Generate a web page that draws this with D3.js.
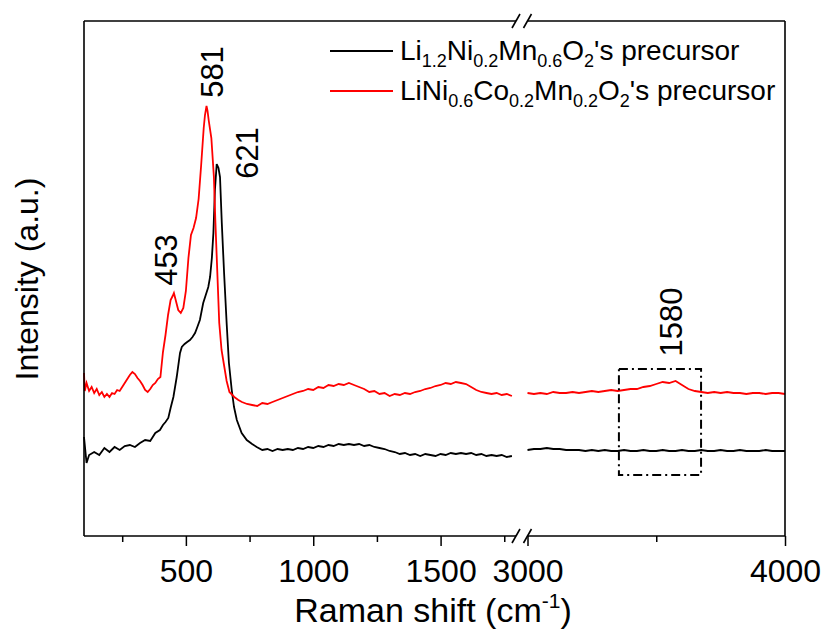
<!DOCTYPE html>
<html>
<head>
<meta charset="utf-8">
<script src="https://cdn.jsdelivr.net/npm/d3@7"></script>
<style>
  body { margin: 0; background: #fff; }
  text { font-family: "Liberation Sans", Arial, sans-serif; fill: #000; }
</style>
</head>
<body>
<svg id="chart" width="828" height="629"></svg>
<script>
// Raman spectra, [shift (cm-1), intensity (a.u.)]
// low-wavenumber segment (100-1800) and high segment (3000-4000)
var blackLow = [
  [100,1160],[110,900],[120,980],[140,1010],[160,980],[180,1050],[200,1010],[220,1060],
  [240,1030],[260,1070],[280,1080],[300,1060],[320,1100],[340,1130],[360,1120],[380,1200],
  [398,1230],[410,1280],[420,1310],[431,1350],[440,1450],[451,1560],[464,1760],[477,2000],
  [484,2060],[495,2090],[505,2110],[516,2130],[526,2160],[536,2200],[545,2260],[555,2330],
  [568,2500],[578,2580],[588,2660],[595,2760],[602,2950],[608,3200],[614,3630],[621,3890],
  [628,3850],[634,3760],[641,3300],[650,2800],[660,2300],[669,1900],[680,1630],[689,1460],
  [700,1330],[719,1200],[739,1130],[760,1090],[778,1060],[800,1030],[820,1040],[840,1020],
  [860,1040],[880,1030],[900,1040],[920,1030],[940,1050],[960,1040],[980,1060],[1000,1050],
  [1020,1070],[1040,1060],[1060,1080],[1080,1070],[1100,1090],[1120,1080],[1140,1090],
  [1160,1080],[1180,1090],[1200,1070],[1220,1080],[1240,1060],[1260,1050],[1280,1040],
  [1300,1020],[1320,1010],[1340,990],[1360,1000],[1380,980],[1400,990],[1420,970],
  [1440,990],[1460,980],[1480,970],[1500,990],[1520,980],[1540,1000],[1560,990],[1580,1000],
  [1600,990],[1620,1000],[1640,980],[1660,990],[1680,970],[1700,980],[1720,970],[1740,980],
  [1760,960],[1780,970]
];
var redLow = [
  [100,1800],[103,1620],[110,1700],[120,1620],[130,1660],[140,1600],[150,1640],[160,1580],
  [170,1610],[180,1560],[190,1590],[200,1560],[210,1600],[220,1590],[230,1630],[240,1620],
  [250,1660],[260,1700],[270,1740],[280,1780],[290,1810],[300,1790],[310,1750],[320,1720],
  [330,1680],[340,1630],[350,1610],[360,1640],[370,1680],[380,1700],[390,1740],[400,1760],
  [410,2010],[420,2180],[430,2380],[440,2530],[448,2570],[453,2600],[460,2530],[470,2430],
  [480,2400],[490,2450],[500,2620],[510,2950],[520,3180],[530,3250],[540,3350],[550,3540],
  [560,3880],[570,4250],[575,4380],[581,4470],[585,4420],[590,4320],[600,4150],[610,3760],
  [616,3300],[622,2900],[631,2300],[640,2030],[651,1860],[660,1720],[671,1610],[690,1560],
  [706,1530],[720,1510],[740,1490],[760,1480],[780,1470],[800,1500],[820,1490],[840,1510],
  [860,1530],[880,1550],[900,1570],[920,1590],[940,1610],[960,1620],[980,1640],[1000,1630],
  [1020,1660],[1040,1650],[1060,1680],[1080,1670],[1100,1690],[1120,1680],[1140,1700],
  [1160,1680],[1180,1660],[1200,1640],[1220,1610],[1240,1620],[1260,1590],[1280,1600],
  [1300,1570],[1320,1590],[1340,1580],[1360,1600],[1380,1590],[1400,1610],[1420,1620],
  [1440,1640],[1460,1650],[1480,1670],[1500,1680],[1520,1700],[1540,1690],[1560,1710],
  [1580,1700],[1600,1690],[1620,1660],[1640,1630],[1660,1610],[1680,1600],[1700,1590],
  [1720,1600],[1740,1580],[1760,1590],[1780,1570]
];
var blackHigh = [
  [3000,1030],[3025,1040],[3050,1040],[3075,1050],[3100,1040],[3125,1040],[3150,1030],
  [3175,1030],[3200,1030],[3225,1020],[3250,1030],[3275,1020],[3300,1030],[3325,1020],
  [3350,1020],[3375,1030],[3400,1020],[3425,1020],[3450,1030],[3475,1020],[3500,1020],
  [3525,1030],[3550,1020],[3575,1020],[3600,1030],[3625,1020],[3650,1020],[3675,1030],
  [3700,1020],[3725,1020],[3750,1030],[3775,1020],[3800,1020],[3825,1030],[3850,1020],
  [3875,1020],[3900,1020],[3925,1030],[3950,1020],[3975,1020],[4000,1020]
];
var redHigh = [
  [3000,1600],[3025,1590],[3050,1600],[3075,1590],[3100,1610],[3125,1600],[3150,1600],
  [3175,1610],[3200,1600],[3225,1610],[3250,1620],[3275,1610],[3300,1620],[3325,1630],
  [3350,1620],[3375,1630],[3400,1640],[3425,1640],[3450,1660],[3475,1670],[3500,1690],
  [3525,1710],[3550,1700],[3575,1720],[3600,1680],[3625,1640],[3650,1620],[3675,1610],
  [3700,1600],[3725,1610],[3750,1600],[3775,1610],[3800,1600],[3825,1600],[3850,1590],
  [3875,1600],[3900,1600],[3925,1590],[3950,1600],[3975,1600],[4000,1590]
];

var lowMajor = [500, 1000, 1500], lowMinor = [250, 750, 1250, 1750];
var highMajor = [3000, 4000], highMinor = [3500];

// peak labels: text, shift, intensity of the peak
var peakText = ['453', '581', '621', '1580'];
var peakShift = [453, 581, 621, 3600];
var peakLevel = [2600, 4470, 3890, 1720];

// region marked by the dash-dot box
var boxShift = [3355, 3674], boxLevel = [780, 1840];

var legendNames = [
  [['Li',0],['1.2',1],['Ni',0],['0.2',1],['Mn',0],['0.6',1],['O',0],['2',1],["'s precursor",0]],
  [['LiNi',0],['0.6',1],['Co',0],['0.2',1],['Mn',0],['0.2',1],['O',0],['2',1],["'s precursor",0]]
];
var colors = ['#000000', '#ff0000'];

var svg = d3.select('#chart');
var plotL = 84, plotR = 785, plotT = 21, plotB = 536;
var gapL = 516, gapR = 527.5;

var xLo = d3.scaleLinear().domain([100, 1800]).range([plotL, 517]);
var xHi = d3.scaleLinear().domain([3000, 4000]).range([gapR, plotR]);
var y = d3.scaleLinear().domain([170, 5320]).range([plotB, plotT]);

function xOf(v) { return v < 2500 ? xLo(v) : xHi(v); }

var lineLo = d3.line().x(function (d) { return xLo(d[0]); }).y(function (d) { return y(d[1]); });
var lineHi = d3.line().x(function (d) { return xHi(d[0]); }).y(function (d) { return y(d[1]); });

// spectra
[[blackLow, blackHigh], [redLow, redHigh]].forEach(function (s, i) {
  svg.append('path').attr('d', lineLo(s[0]))
    .attr('fill', 'none').attr('stroke', colors[i]).attr('stroke-width', 1.8);
  svg.append('path').attr('d', lineHi(s[1]))
    .attr('fill', 'none').attr('stroke', colors[i]).attr('stroke-width', 1.8);
});

// frame with axis break
var frame = svg.append('g').attr('stroke', '#000').attr('stroke-width', 1.6);
frame.append('line').attr('x1', plotL).attr('x2', plotL).attr('y1', plotT).attr('y2', plotB);
frame.append('line').attr('x1', plotR).attr('x2', plotR).attr('y1', plotT).attr('y2', plotB);
[plotT, plotB].forEach(function (yy) {
  frame.append('line').attr('x1', plotL).attr('x2', gapL).attr('y1', yy).attr('y2', yy);
  frame.append('line').attr('x1', gapR).attr('x2', plotR).attr('y1', yy).attr('y2', yy);
  [gapL, gapR].forEach(function (xx) {
    frame.append('line').attr('x1', xx - 4).attr('y1', yy + 7).attr('x2', xx + 4).attr('y2', yy - 7);
  });
});

// x axes
function addAxis(scale, major, minor) {
  var g = svg.append('g').attr('transform', 'translate(0,' + plotB + ')');
  g.call(d3.axisBottom(scale).tickValues(major).tickSize(10).tickPadding(13).tickFormat(d3.format('d')));
  g.append('g').call(d3.axisBottom(scale).tickValues(minor).tickSize(6).tickFormat(''));
  g.selectAll('.domain').remove();
  g.selectAll('line').attr('stroke-width', 1.5);
  g.selectAll('text').style('font-size', '32px').attr('font-family', null);
}
addAxis(xLo, lowMajor, lowMinor);
addAxis(xHi, highMajor, highMinor);

// axis titles
var xt = svg.append('text').attr('x', 433).attr('y', 622)
  .attr('text-anchor', 'middle').style('font-size', '34px');
xt.append('tspan').text('Raman shift (cm');
xt.append('tspan').attr('dy', -14).style('font-size', '21px').text('-1');
xt.append('tspan').attr('dy', 14).text(')');

svg.append('text').attr('transform', 'translate(38,279) rotate(-90)')
  .attr('text-anchor', 'middle').style('font-size', '32px').text('Intensity (a.u.)');

// peak labels, rotated, placed next to each peak
var labelDx = [3, 16, 41, 0], labelDy = [-33, -34, -11, -59];
peakText.forEach(function (t, i) {
  var px = xOf(peakShift[i]) + labelDx[i];
  var py = y(peakLevel[i]) + labelDy[i];
  svg.append('text').attr('transform', 'translate(' + px + ',' + py + ') rotate(-90)')
    .attr('text-anchor', 'middle').style('font-size', '31px').text(t);
});

// dash-dot box
svg.append('rect')
  .attr('x', xHi(boxShift[0])).attr('y', y(boxLevel[1]))
  .attr('width', xHi(boxShift[1]) - xHi(boxShift[0]))
  .attr('height', y(boxLevel[0]) - y(boxLevel[1]))
  .attr('fill', 'none').attr('stroke', '#000').attr('stroke-width', 2)
  .attr('stroke-dasharray', '9,4,2,4');

// legend
legendNames.forEach(function (parts, i) {
  var ly = 51 + i * 40;
  svg.append('line').attr('x1', 330).attr('x2', 393).attr('y1', ly).attr('y2', ly)
    .attr('stroke', colors[i]).attr('stroke-width', 2);
  var t = svg.append('text').attr('x', 400).attr('y', ly + 9).style('font-size', '28px');
  var sub = 0;
  parts.forEach(function (p) {
    var dy = (p[1] ? 7 : 0) - sub;
    sub = p[1] ? 7 : 0;
    t.append('tspan').attr('dy', dy).style('font-size', p[1] ? '18px' : '28px').text(p[0]);
  });
});
</script>
</body>
</html>
